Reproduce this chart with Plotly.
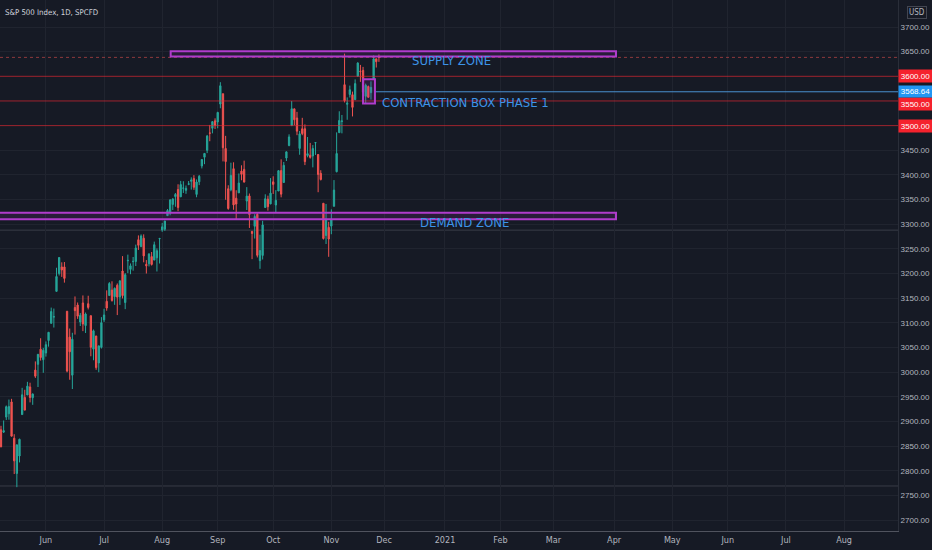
import plotly.graph_objects as go

# S&P 500 daily candles, May - Nov 2020
dates = [
    "2020-05-06", "2020-05-07", "2020-05-08", "2020-05-11", "2020-05-12", "2020-05-13", "2020-05-14",
    "2020-05-15", "2020-05-18", "2020-05-19", "2020-05-20", "2020-05-21", "2020-05-22", "2020-05-26",
    "2020-05-27", "2020-05-28", "2020-05-29",
    "2020-06-01", "2020-06-02", "2020-06-03", "2020-06-04", "2020-06-05", "2020-06-08", "2020-06-09",
    "2020-06-10", "2020-06-11", "2020-06-12", "2020-06-15", "2020-06-16", "2020-06-17", "2020-06-18",
    "2020-06-19", "2020-06-22", "2020-06-23", "2020-06-24", "2020-06-25", "2020-06-26", "2020-06-29",
    "2020-06-30",
    "2020-07-01", "2020-07-02", "2020-07-06", "2020-07-07", "2020-07-08", "2020-07-09", "2020-07-10",
    "2020-07-13", "2020-07-14", "2020-07-15", "2020-07-16", "2020-07-17", "2020-07-20", "2020-07-21",
    "2020-07-22", "2020-07-23", "2020-07-24", "2020-07-27", "2020-07-28", "2020-07-29", "2020-07-30",
    "2020-07-31",
    "2020-08-03", "2020-08-04", "2020-08-05", "2020-08-06", "2020-08-07", "2020-08-10", "2020-08-11",
    "2020-08-12", "2020-08-13", "2020-08-14", "2020-08-17", "2020-08-18", "2020-08-19", "2020-08-20",
    "2020-08-21", "2020-08-24", "2020-08-25", "2020-08-26", "2020-08-27", "2020-08-28", "2020-08-31",
    "2020-09-01", "2020-09-02", "2020-09-03", "2020-09-04", "2020-09-08", "2020-09-09", "2020-09-10",
    "2020-09-11", "2020-09-14", "2020-09-15", "2020-09-16", "2020-09-17", "2020-09-18", "2020-09-21",
    "2020-09-22", "2020-09-23", "2020-09-24", "2020-09-25", "2020-09-28", "2020-09-29", "2020-09-30",
    "2020-10-01", "2020-10-02", "2020-10-05", "2020-10-06", "2020-10-07", "2020-10-08", "2020-10-09",
    "2020-10-12", "2020-10-13", "2020-10-14", "2020-10-15", "2020-10-16", "2020-10-19", "2020-10-20",
    "2020-10-21", "2020-10-22", "2020-10-23", "2020-10-26", "2020-10-27", "2020-10-28", "2020-10-29",
    "2020-10-30",
    "2020-11-02", "2020-11-03", "2020-11-04", "2020-11-05", "2020-11-06", "2020-11-09", "2020-11-10",
    "2020-11-11", "2020-11-12", "2020-11-13", "2020-11-16", "2020-11-17", "2020-11-18", "2020-11-19",
    "2020-11-20", "2020-11-23", "2020-11-24", "2020-11-25", "2020-11-27",
]
opens = [
    2883.1, 2878.3, 2908.8, 2915.5, 2939.5, 2865.9, 2794.5,
    2829.9, 2913.9, 2948.6, 2953.6, 2969.9, 2948.1, 3004.1,
    3015.7, 3046.6, 3025.2,
    3038.8, 3064.2, 3098.9, 3111.6, 3163.8, 3199.9, 3213.3,
    3213.4, 3123.5, 3071.0, 2993.8, 3131.0, 3136.1, 3101.6,
    3140.3, 3094.4, 3138.7, 3114.4, 3046.6, 3073.2, 3018.6,
    3050.2,
    3105.9, 3143.6, 3155.3, 3166.4, 3153.1, 3176.2, 3152.5,
    3205.1, 3141.1, 3225.9, 3208.4, 3224.2, 3224.3, 3268.5,
    3254.9, 3271.6, 3218.6, 3219.8, 3234.3, 3227.2, 3231.8,
    3270.5,
    3288.3, 3289.9, 3317.4, 3323.2, 3340.1, 3356.0, 3370.3,
    3355.5, 3372.9, 3368.7, 3380.9, 3387.0, 3392.5, 3360.5,
    3386.0, 3418.1, 3435.9, 3449.9, 3485.1, 3494.7, 3509.7,
    3507.4, 3543.8, 3564.7, 3453.6, 3371.9, 3369.8, 3412.6,
    3352.7, 3363.6, 3407.7, 3411.2, 3346.9, 3357.4, 3285.6,
    3295.8, 3320.1, 3226.1, 3236.7, 3333.9, 3350.9, 3341.2,
    3385.9, 3338.9, 3367.3, 3408.7, 3384.6, 3434.3, 3459.7,
    3500.0, 3534.0, 3515.5, 3453.7, 3493.5, 3493.7, 3439.4,
    3439.9, 3438.5, 3464.9, 3441.4, 3403.2, 3342.5, 3277.2,
    3293.6,
    3296.2, 3336.3, 3406.5, 3485.7, 3508.3, 3583.0, 3543.3,
    3563.2, 3562.7, 3552.6, 3600.2, 3610.3, 3612.1, 3559.4,
    3579.3, 3566.8, 3594.5, 3635.5, 3638.6,
]
highs = [
    2891.1, 2901.9, 2932.2, 2944.3, 2945.8, 2874.1, 2852.8,
    2865.0, 2968.1, 2964.2, 2980.3, 2978.5, 2956.8, 3021.7,
    3036.3, 3068.7, 3049.2,
    3062.2, 3081.1, 3130.9, 3128.9, 3211.7, 3233.1, 3222.7,
    3223.3, 3123.5, 3088.4, 3079.8, 3153.5, 3141.2, 3120.0,
    3155.5, 3120.9, 3154.9, 3115.0, 3086.3, 3073.7, 3053.9,
    3111.5,
    3128.4, 3165.8, 3182.6, 3184.2, 3171.8, 3179.8, 3186.8,
    3235.3, 3200.9, 3238.3, 3220.4, 3233.5, 3258.6, 3277.3,
    3279.3, 3279.4, 3227.3, 3241.4, 3243.7, 3264.7, 3250.9,
    3272.2,
    3302.7, 3306.8, 3330.8, 3351.0, 3352.5, 3363.3, 3381.0,
    3387.9, 3387.2, 3378.5, 3387.6, 3395.1, 3399.5, 3390.8,
    3399.9, 3432.1, 3444.2, 3481.1, 3501.4, 3509.2, 3514.8,
    3528.0, 3588.1, 3564.9, 3479.2, 3379.0, 3424.8, 3425.6,
    3368.9, 3402.9, 3419.5, 3428.9, 3375.2, 3362.3, 3285.6,
    3320.3, 3323.4, 3278.7, 3306.9, 3360.7, 3357.9, 3393.6,
    3397.2, 3369.1, 3409.6, 3431.6, 3426.3, 3447.3, 3482.3,
    3549.9, 3534.0, 3527.9, 3489.1, 3515.8, 3502.4, 3476.9,
    3464.9, 3460.5, 3466.5, 3441.4, 3409.5, 3342.5, 3341.1,
    3304.9,
    3330.1, 3389.5, 3486.3, 3529.1, 3521.6, 3646.0, 3557.2,
    3581.2, 3569.0, 3593.7, 3628.5, 3623.1, 3619.1, 3585.2,
    3581.2, 3589.8, 3642.3, 3635.5, 3644.3,
]
lows = [
    2847.7, 2876.5, 2902.9, 2903.4, 2869.6, 2793.2, 2766.6,
    2816.8, 2913.9, 2922.4, 2953.6, 2938.6, 2933.6, 2988.2,
    2969.8, 3023.4, 2998.6,
    3031.5, 3051.6, 3098.9, 3090.4, 3163.8, 3196.0, 3193.1,
    3181.5, 2999.5, 2984.5, 2965.7, 3076.1, 3108.0, 3093.5,
    3083.1, 3079.4, 3127.1, 3032.1, 3024.0, 3004.6, 2999.7,
    3047.8,
    3101.5, 3124.5, 3155.3, 3142.9, 3136.5, 3115.7, 3136.2,
    3149.4, 3127.7, 3200.8, 3198.6, 3205.7, 3215.2, 3247.8,
    3253.1, 3222.7, 3200.0, 3214.3, 3216.2, 3227.2, 3204.1,
    3220.3,
    3284.5, 3286.4, 3317.4, 3318.1, 3328.7, 3335.4, 3326.4,
    3355.5, 3363.4, 3361.6, 3379.2, 3370.2, 3369.7, 3354.7,
    3379.3, 3413.1, 3421.8, 3444.2, 3468.3, 3484.3, 3493.2,
    3494.6, 3535.2, 3427.4, 3349.6, 3329.3, 3366.8, 3329.3,
    3310.5, 3363.6, 3389.2, 3384.5, 3328.8, 3292.4, 3229.1,
    3270.9, 3232.6, 3209.5, 3228.4, 3333.9, 3327.5, 3340.5,
    3361.4, 3323.7, 3367.3, 3354.5, 3384.6, 3428.2, 3458.1,
    3499.6, 3500.9, 3480.6, 3440.9, 3480.5, 3419.9, 3435.7,
    3433.1, 3415.3, 3440.5, 3364.9, 3388.7, 3268.9, 3259.8,
    3233.9,
    3279.7, 3336.3, 3405.2, 3485.7, 3484.3, 3547.0, 3511.9,
    3557.0, 3518.6, 3552.6, 3600.2, 3588.7, 3567.3, 3543.8,
    3556.9, 3552.8, 3594.5, 3617.8, 3629.3,
]
closes = [
    2848.4, 2881.2, 2929.8, 2930.2, 2870.1, 2820.0, 2852.5,
    2863.7, 2953.9, 2922.9, 2971.6, 2948.5, 2955.5, 2991.8,
    3036.1, 3029.7, 3044.3,
    3055.7, 3080.8, 3122.9, 3112.4, 3193.9, 3232.4, 3207.2,
    3190.1, 3002.1, 3041.3, 3066.6, 3124.7, 3113.5, 3115.3,
    3097.7, 3117.9, 3131.3, 3050.3, 3083.8, 3009.1, 3053.2,
    3100.3,
    3115.9, 3130.0, 3179.7, 3145.3, 3169.9, 3152.1, 3185.0,
    3155.2, 3197.5, 3226.6, 3215.6, 3224.7, 3251.8, 3257.3,
    3276.0, 3235.7, 3215.6, 3239.4, 3218.4, 3258.4, 3246.2,
    3271.1,
    3294.6, 3306.5, 3327.8, 3349.2, 3351.3, 3360.5, 3333.7,
    3380.4, 3373.4, 3372.9, 3382.0, 3389.8, 3374.9, 3385.5,
    3397.2, 3431.3, 3443.6, 3478.7, 3484.6, 3508.0, 3500.3,
    3526.7, 3580.8, 3455.1, 3427.0, 3331.8, 3399.0, 3339.2,
    3341.0, 3383.5, 3401.2, 3385.5, 3357.0, 3319.5, 3281.1,
    3315.6, 3236.9, 3246.6, 3298.5, 3351.6, 3335.5, 3363.0,
    3380.8, 3348.4, 3408.6, 3361.0, 3419.4, 3446.8, 3477.1,
    3534.2, 3511.9, 3488.7, 3483.3, 3483.8, 3426.9, 3443.1,
    3435.6, 3453.5, 3465.4, 3401.0, 3390.7, 3271.0, 3310.1,
    3270.0,
    3310.2, 3369.2, 3443.4, 3510.5, 3509.4, 3550.5, 3545.5,
    3572.7, 3537.0, 3585.2, 3626.9, 3609.5, 3567.8, 3581.9,
    3557.5, 3577.6, 3635.4, 3629.7, 3638.4,
]

holidays = ["2020-05-25", "2020-07-03", "2020-09-07", "2020-11-26"]

month_ticks = ["2020-06-01", "2020-07-01", "2020-08-03", "2020-09-01", "2020-10-01", "2020-11-02",
               "2020-12-01", "2021-01-01", "2021-02-01", "2021-03-01", "2021-04-01", "2021-05-03",
               "2021-06-01", "2021-07-01", "2021-08-02"]
month_labels = ["Jun", "Jul", "Aug", "Sep", "Oct", "Nov", "Dec", "2021", "Feb", "Mar", "Apr", "May",
                "Jun", "Jul", "Aug"]

# drawn levels
red_levels = [3600, 3550, 3500]
blue_level = 3568.64
supply_zone = (3640, 3651)
demand_zone = (3310, 3323)
contraction_box = (3545, 3594)
extra_lines = [3288, 2769]

# price ticks every 50, the marked levels get their own coloured labels
price_ticks = [p for p in range(2700, 3701, 50) if p not in red_levels]

BG = "#161a25"
GRID = "#20242f"
TXT = "#b2b5be"
FONT = "Liberation Sans Narrow, Arial Narrow, DejaVu Sans Condensed, sans-serif"
AXIS_FONT = "Liberation Sans, Arial, sans-serif"
PURPLE = "#b03ccc"
BLUE_TXT = "#3d94e8"
RED = "#f5222d"

fig = go.Figure()
fig.add_trace(go.Candlestick(
    x=dates, open=opens, high=highs, low=lows, close=closes,
    increasing=dict(line=dict(color="#26a69a", width=1), fillcolor="#26a69a"),
    decreasing=dict(line=dict(color="#ef5350", width=1), fillcolor="#ef5350"),
    whiskerwidth=0, showlegend=False, hoverinfo="skip"))

shapes = []
for lv in extra_lines:
    shapes.append(dict(type="line", xref="paper", x0=0, x1=1, y0=lv, y1=lv,
                       line=dict(color="rgba(120,123,134,0.35)", width=1), layer="below"))
for lv in red_levels:
    shapes.append(dict(type="line", xref="paper", x0=0, x1=1, y0=lv, y1=lv,
                       line=dict(color="rgba(230,40,50,0.65)", width=1)))
# last price line
shapes.append(dict(type="line", xref="paper", x0=0, x1=1, y0=closes[-1], y1=closes[-1],
                   line=dict(color="rgba(239,83,80,0.55)", width=1, dash="dot")))
shapes.append(dict(type="line", x0="2020-11-24 12:00", x1="2021-08-30 10:00",
                   y0=blue_level, y1=blue_level, line=dict(color="#4a90d0", width=1)))
shapes.append(dict(type="rect", x0="2020-08-06 05:00", x1="2021-04-01 17:00",
                   y0=supply_zone[0], y1=supply_zone[1],
                   line=dict(color=PURPLE, width=2), fillcolor="rgba(156,39,176,0.15)"))
shapes.append(dict(type="rect", x0="2020-05-01", x1="2021-04-01 17:00",
                   y0=demand_zone[0], y1=demand_zone[1],
                   line=dict(color=PURPLE, width=2), fillcolor="rgba(156,39,176,0.15)"))
shapes.append(dict(type="rect", x0="2020-11-18", x1="2020-11-24 12:00",
                   y0=contraction_box[0], y1=contraction_box[1],
                   line=dict(color=PURPLE, width=2), fillcolor="rgba(156,39,176,0.15)"))

annotations = [
    dict(text="S&P 500 Index, 1D, SPCFD", xref="paper", yref="paper", x=0, y=1,
         xanchor="left", yanchor="top", xshift=3, yshift=-6, showarrow=False,
         font=dict(family=FONT, size=7.8, color="#d1d4dc")),
    dict(text="SUPPLY ZONE", x="2021-01-05 12:00", y=3633, showarrow=False,
         xanchor="center", yanchor="middle", font=dict(family=FONT, size=13, color=BLUE_TXT)),
    dict(text="DEMAND ZONE", x="2021-01-12 10:00", y=3304, showarrow=False,
         xanchor="center", yanchor="middle", font=dict(family=FONT, size=13, color=BLUE_TXT)),
    dict(text="CONTRACTION BOX PHASE 1", x="2020-11-27 06:00", y=3546, showarrow=False,
         xanchor="left", yanchor="middle", font=dict(family=FONT, size=13, color=BLUE_TXT)),
    dict(text="USD", xref="paper", yref="paper", x=1, y=1, xanchor="left", yanchor="top",
         xshift=9, yshift=-6, showarrow=False, bordercolor="#434651", borderwidth=1, borderpad=1,
         bgcolor=BG, font=dict(family=FONT, size=8, color=TXT)),
]
for lv in red_levels:
    annotations.append(dict(text=f"{lv:.2f}", xref="paper", x=1, y=lv, xanchor="left",
                            yanchor="middle", showarrow=False, bgcolor=RED, width=33, height=12,
                            borderpad=0, yshift=-3 if lv == 3550 else 0,
                            font=dict(family=AXIS_FONT, size=8, color="white")))
annotations.append(dict(text=f"{blue_level:.2f}", xref="paper", x=1, y=blue_level, xanchor="left",
                        yanchor="middle", showarrow=False, bgcolor="#2196f3", width=33, height=11,
                        borderpad=0, font=dict(family=AXIS_FONT, size=8, color="white")))

fig.update_layout(
    width=932, height=550,
    margin=dict(l=0, r=34, t=0, b=19),
    paper_bgcolor=BG, plot_bgcolor=BG,
    shapes=shapes, annotations=annotations,
    font=dict(family=FONT, size=9, color=TXT),
    xaxis=dict(
        range=["2020-05-05 15:00", "2021-08-30 10:00"],
        rangebreaks=[dict(bounds=["sat", "mon"]), dict(values=holidays)],
        rangeslider=dict(visible=False),
        tickmode="array", tickvals=month_ticks, ticktext=month_labels,
        showgrid=True, gridcolor=GRID, gridwidth=1,
        showline=True, linecolor="#50535e", linewidth=1,
        ticks="", tickfont=dict(family=FONT, size=9, color=TXT),
        zeroline=False, fixedrange=True, automargin=False),
    yaxis=dict(
        side="right", range=[2677.7, 3754.8],
        tickmode="array", tickvals=price_ticks, ticktext=[f"{p:.2f}" for p in price_ticks],
        showgrid=True, gridcolor=GRID, gridwidth=1,
        showline=True, linecolor="#2a2e39", linewidth=1,
        ticks="", ticklabelstandoff=0,
        tickfont=dict(family=AXIS_FONT, size=8, color=TXT),
        zeroline=False, fixedrange=True, automargin=False),
)

fig.write_html("out.html", config={"displayModeBar": False},
               post_script="document.body.style.margin='0';"
                           "document.body.style.background='#161a25';")
